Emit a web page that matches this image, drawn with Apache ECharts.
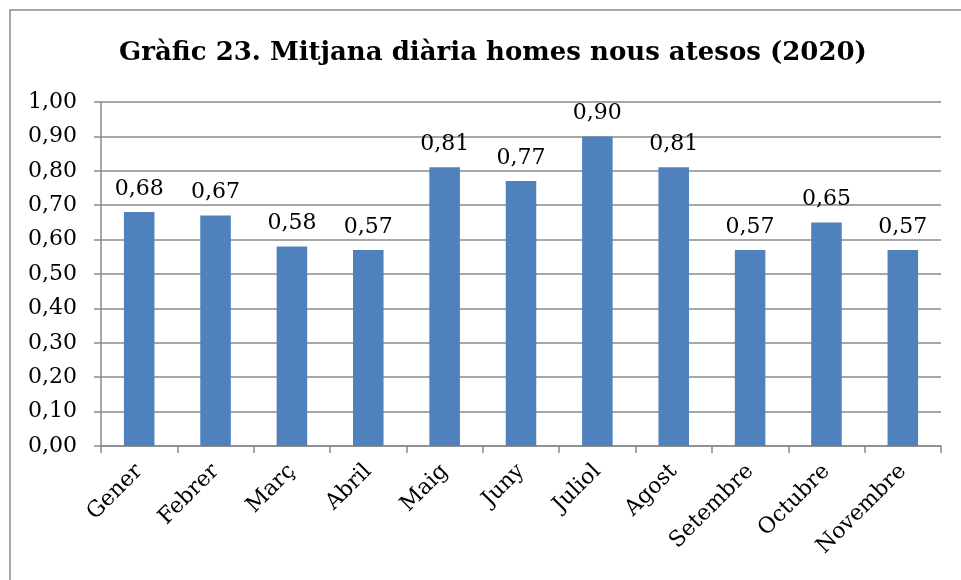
<!DOCTYPE html>
<html>
<head>
<meta charset="utf-8">
<title>Gràfic 23</title>
<script src="https://cdn.jsdelivr.net/npm/echarts@6/dist/echarts.min.js"></script>
<style>
    html, body { margin: 0; padding: 0; background: #fff; }
    #container { width: 961px; height: 580px; }
</style>
</head>
<body>
<div id="container"></div>
<script>
// dades del gràfic
var titol = 'Gràfic 23. Mitjana diària homes nous atesos (2020)';
var mesos = ['Gener', 'Febrer', 'Març', 'Abril', 'Maig', 'Juny', 'Juliol', 'Agost', 'Setembre', 'Octubre', 'Novembre'];
var mitjanes = [0.68, 0.67, 0.58, 0.57, 0.81, 0.77, 0.90, 0.81, 0.57, 0.65, 0.57];

var font = 'DejaVu Serif';
var gris = '#8a8a8a';

// format amb coma decimal
function coma(v) {
    return Number(v).toFixed(2).replace('.', ',');
}

var chart = echarts.init(document.getElementById('container'));

var option = {
    backgroundColor: '#fff',
    animation: false,
    title: {
        text: titol,
        left: 488,
        textAlign: 'center',
        top: 35,
        textStyle: {
            fontFamily: font,
            fontWeight: 'bold',
            fontSize: 26,
            color: '#000'
        }
    },
    // marc del gràfic (la vora dreta i inferior queden fora de la imatge)
    graphic: [{
        type: 'rect',
        shape: { x: 10, y: 10, width: 1000, height: 700 },
        style: { fill: 'none', stroke: gris, lineWidth: 1.5 },
        silent: true
    }],
    grid: {
        left: 101,
        right: 20,
        top: 102,
        bottom: 134
    },
    xAxis: {
        type: 'category',
        data: mesos,
        axisLine: { lineStyle: { color: gris, width: 1.5 } },
        axisTick: { show: true, length: 7, lineStyle: { color: gris, width: 1.5 } },
        axisLabel: {
            rotate: 45,
            margin: 22,
            interval: 0,
            fontFamily: font,
            fontSize: 22,
            color: '#000'
        }
    },
    yAxis: {
        type: 'value',
        min: 0,
        max: 1,
        interval: 0.1,
        axisLine: { show: true, lineStyle: { color: gris, width: 1.5 } },
        axisTick: { show: true, length: 7, lineStyle: { color: gris, width: 1.5 } },
        splitLine: { lineStyle: { color: gris, width: 1.5 } },
        axisLabel: {
            margin: 24,
            fontFamily: font,
            fontSize: 22,
            color: '#000',
            formatter: function (v) { return coma(v); }
        }
    },
    series: [{
        type: 'bar',
        data: mitjanes,
        barWidth: '40%',
        itemStyle: { color: '#4f81bd' },
        label: {
            show: true,
            position: 'top',
            distance: 12,
            fontFamily: font,
            fontSize: 22,
            color: '#000',
            formatter: function (p) { return coma(p.value); }
        }
    }]
};

chart.setOption(option);
</script>
</body>
</html>
